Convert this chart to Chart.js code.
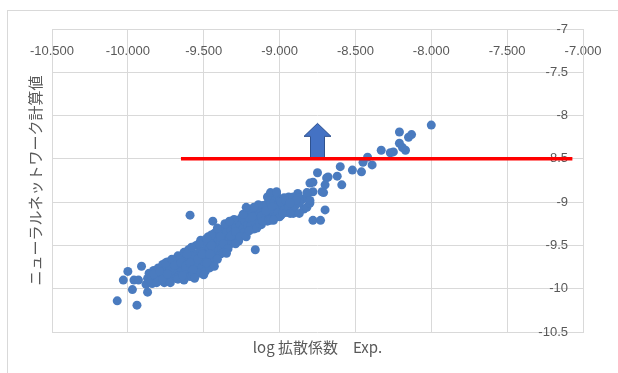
<!DOCTYPE html>
<html>
<head>
<meta charset="utf-8">
<script src="https://cdn.jsdelivr.net/npm/chart.js@4"></script>
<style>
  html, body { margin: 0; padding: 0; background: #fff; overflow: hidden; }
  #frame { position: absolute; left: 7px; top: 10px; width: 640px; height: 400px; border-top: 1px solid #d9d9d9; border-left: 1px solid #d9d9d9; }
  #wrap { position: absolute; left: 0; top: 0; width: 618px; height: 373px; }
</style>
</head>
<body>
<div id="frame"></div>
<div id="wrap"><canvas id="nn-chart"></canvas></div>
<script>
// axis ranges and titles
const x_ticks = [-10.5, -10, -9.5, -9, -8.5, -8, -7.5, -7]
const y_ticks = [-10.5, -10, -9.5, -9, -8.5, -8, -7.5, -7]
const x_title = 'log 拡散係数　Exp.'
const y_title = 'ニューラルネットワーク計算値'

// [log D exp, NN calc]
const nn_points = [
  [-10.00, -9.80], [-9.91, -9.74], [-10.03, -9.90], [-9.96, -9.90], [-9.93, -9.90],
  [-9.97, -10.01], [-10.07, -10.14], [-9.94, -10.19], [-9.87, -10.04],
  [-9.88, -9.95], [-9.87, -9.88], [-9.86, -9.82], [-9.85, -9.92], [-9.84, -9.86],
  [-9.83, -9.79], [-9.82, -9.90], [-9.81, -9.84], [-9.80, -9.76], [-9.79, -9.88],
  [-9.78, -9.81], [-9.77, -9.72], [-9.76, -9.85], [-9.75, -9.78], [-9.74, -9.69],
  [-9.73, -9.90], [-9.72, -9.82], [-9.71, -9.74], [-9.70, -9.86], [-9.70, -9.67],
  [-9.69, -9.79], [-9.68, -9.71], [-9.67, -9.62], [-9.66, -9.84], [-9.65, -9.76],
  [-9.64, -9.68], [-9.63, -9.58], [-9.62, -9.81], [-9.61, -9.73], [-9.60, -9.64],
  [-9.60, -9.55], [-9.59, -9.86], [-9.58, -9.77], [-9.57, -9.69], [-9.56, -9.60],
  [-9.55, -9.80], [-9.55, -9.50], [-9.54, -9.72], [-9.53, -9.63], [-9.52, -9.44],
  [-9.51, -9.76], [-9.50, -9.68], [-9.50, -9.56], [-9.49, -9.47], [-9.48, -9.62],
  [-9.47, -9.72], [-9.47, -9.40], [-9.46, -9.53], [-9.45, -9.65], [-9.44, -9.58],
  [-9.44, -9.45], [-9.43, -9.36], [-9.42, -9.50], [-9.42, -9.62], [-9.41, -9.41],
  [-9.40, -9.55], [-9.40, -9.33],
  [-9.39, -9.47], [-9.38, -9.38], [-9.37, -9.30], [-9.36, -9.44], [-9.35, -9.52],
  [-9.35, -9.35], [-9.34, -9.27], [-9.33, -9.41], [-9.32, -9.33], [-9.31, -9.46],
  [-9.31, -9.24], [-9.30, -9.37], [-9.29, -9.29], [-9.28, -9.42], [-9.28, -9.21],
  [-9.27, -9.33], [-9.26, -9.26], [-9.25, -9.38], [-9.25, -9.18],
  [-9.24, -9.30], [-9.23, -9.22], [-9.22, -9.13], [-9.21, -9.27], [-9.20, -9.18],
  [-9.19, -9.10], [-9.18, -9.24], [-9.17, -9.31], [-9.16, -9.15], [-9.15, -9.07],
  [-9.14, -9.21], [-9.13, -9.12], [-9.12, -9.26], [-9.11, -9.04], [-9.10, -9.17],
  [-9.10, -9.10],
  [-9.09, -9.03], [-9.08, -9.14], [-9.07, -8.97], [-9.06, -9.08], [-9.05, -9.18],
  [-9.04, -9.00], [-9.03, -8.92], [-9.02, -9.11], [-9.01, -9.04], [-9.00, -8.96],
  [-8.99, -9.15], [-8.98, -9.05], [-8.97, -8.95], [-8.96, -9.12], [-8.95, -9.02],
  [-8.94, -8.94], [-8.93, -9.08], [-8.92, -8.99], [-8.91, -9.13],
  [-9.84, -9.94], [-9.80, -9.91], [-9.76, -9.93], [-9.72, -9.77], [-9.68, -9.88],
  [-9.66, -9.66], [-9.63, -9.90], [-9.62, -9.66], [-9.58, -9.62], [-9.57, -9.83],
  [-9.53, -9.82], [-9.52, -9.56], [-9.49, -9.80], [-9.46, -9.76], [-9.45, -9.38],
  [-9.43, -9.68], [-9.39, -9.60], [-9.38, -9.53],
  [-9.36, -9.25], [-9.33, -9.49], [-9.30, -9.20], [-9.27, -9.45], [-9.23, -9.35],
  [-9.21, -9.08], [-9.19, -9.28], [-9.16, -9.24], [-9.14, -9.03], [-9.12, -9.16],
  [-9.08, -9.22], [-9.06, -9.01], [-9.04, -9.13],
  [-9.83, -9.83], [-9.81, -9.93], [-9.79, -9.80], [-9.77, -9.89], [-9.75, -9.70],
  [-9.74, -9.83], [-9.72, -9.93], [-9.71, -9.66], [-9.69, -9.73], [-9.67, -9.89],
  [-9.65, -9.70], [-9.64, -9.85], [-9.62, -9.74], [-9.61, -9.60], [-9.59, -9.70],
  [-9.58, -9.52], [-9.57, -9.78], [-9.56, -9.88], [-9.54, -9.66], [-9.53, -9.48],
  [-9.51, -9.60], [-9.50, -9.84], [-9.48, -9.70], [-9.48, -9.42], [-9.46, -9.60],
  [-9.45, -9.50], [-9.43, -9.74], [-9.41, -9.66], [-9.41, -9.30], [-9.39, -9.40],
  [-9.37, -9.58], [-9.37, -9.48], [-9.34, -9.54], [-9.33, -9.22], [-9.32, -9.39],
  [-9.29, -9.48], [-9.29, -9.34], [-9.26, -9.40], [-9.24, -9.14], [-9.22, -9.40],
  [-9.20, -9.33], [-9.18, -9.17], [-9.17, -9.06], [-9.15, -9.30], [-9.13, -9.25],
  [-9.11, -9.22], [-9.09, -9.10], [-9.07, -9.20], [-9.05, -9.05], [-9.03, -9.17],
  [-9.01, -9.12], [-8.99, -9.00], [-8.97, -9.09], [-8.96, -8.98], [-8.94, -9.05],
  [-8.90, -9.05], [-8.88, -8.90], [-8.85, -8.97], [-8.84, -9.08],
  [-9.59, -9.15], [-9.16, -9.55], [-9.35, -9.59], [-9.44, -9.22],
  [-9.08, -8.94], [-9.02, -8.90], [-9.22, -9.06], [-9.06, -8.89], [-8.91, -8.94],
  [-8.87, -8.95], [-8.80, -8.78], [-8.78, -8.88], [-8.82, -9.06], [-8.87, -9.13],
  [-8.93, -9.13], [-9.00, -9.17], [-9.06, -9.21], [-8.78, -9.21], [-8.73, -9.21],
  [-8.70, -9.09], [-8.80, -9.01], [-8.87, -9.01], [-8.71, -8.89], [-9.02, -8.88],
  [-8.89, -8.98], [-8.93, -9.01], [-8.98, -9.13], [-9.04, -9.21], [-8.82, -8.92],
  [-8.82, -8.89], [-8.80, -8.98], [-8.72, -8.88], [-8.70, -8.80], [-8.78, -8.77],
  [-8.69, -8.72], [-8.59, -8.80], [-8.68, -8.71], [-8.62, -8.70], [-8.75, -8.66],
  [-8.60, -8.59], [-8.52, -8.63], [-8.46, -8.65], [-8.39, -8.57], [-8.45, -8.54],
  [-8.42, -8.48], [-8.33, -8.40], [-8.27, -8.43], [-8.25, -8.42], [-8.17, -8.40],
  [-8.19, -8.37], [-8.21, -8.32], [-8.15, -8.25], [-8.13, -8.22], [-8.21, -8.19],
  [-8.00, -8.11]
]

// red threshold line and the blue arrow
const threshold_x = [-9.65, -7.07]
const threshold_y = -8.5
const arrow_x = -8.75
const arrow_from = -8.5
const arrow_to = -8.09

const tick_color = '#595959'
const grid_color = '#d9d9d9'
const point_color = '#4a7bbf'

const arrowPlugin = {
  id: 'upArrow',
  beforeDatasetsDraw(chart) {
    const ctx = chart.ctx
    const x = chart.scales.x
    const y = chart.scales.y
    const px = x.getPixelForValue(arrow_x)
    const py0 = y.getPixelForValue(arrow_from)
    const py1 = y.getPixelForValue(arrow_to)
    const shaft = 7
    const head = 13.5
    const headLen = 13
    ctx.save()
    ctx.beginPath()
    ctx.moveTo(px - shaft, py0)
    ctx.lineTo(px - shaft, py1 + headLen)
    ctx.lineTo(px - head, py1 + headLen)
    ctx.lineTo(px, py1)
    ctx.lineTo(px + head, py1 + headLen)
    ctx.lineTo(px + shaft, py1 + headLen)
    ctx.lineTo(px + shaft, py0)
    ctx.closePath()
    ctx.fillStyle = '#4472c4'
    ctx.fill()
    ctx.strokeStyle = '#2f528f'
    ctx.lineWidth = 1
    ctx.stroke()
    ctx.restore()
  }
}

const tickFont = { family: "'Liberation Sans', Arial, sans-serif", size: 13 }
const titleFont = { family: "'Noto Sans CJK JP', sans-serif", size: 15 }

new Chart(document.getElementById('nn-chart'), {
  type: 'scatter',
  data: {
    datasets: [
      {
        type: 'line',
        label: 'threshold',
        data: threshold_x.map(v => ({ x: v, y: threshold_y })),
        borderColor: '#ff0000',
        borderWidth: 3.5,
        pointRadius: 0,
        order: 0
      },
      {
        label: 'NN',
        data: nn_points.map(p => ({ x: p[0], y: p[1] })),
        backgroundColor: point_color,
        borderColor: point_color,
        borderWidth: 0,
        pointRadius: 4.5,
        order: 1
      }
    ]
  },
  options: {
    responsive: true,
    maintainAspectRatio: false,
    animation: false,
    layout: { padding: 0 },
    plugins: {
      legend: { display: false },
      tooltip: { enabled: false }
    },
    scales: {
      x: {
        type: 'linear',
        position: 'top',
        min: x_ticks[0],
        max: x_ticks[x_ticks.length - 1],
        afterBuildTicks: s => { s.ticks = x_ticks.map(v => ({ value: v })) },
        afterFit: s => { s.height = 29 },
        ticks: {
          mirror: true,
          padding: 15,
          color: tick_color,
          font: tickFont,
          maxRotation: 0,
          autoSkip: false,
          callback: v => Number(v).toFixed(3)
        },
        grid: { color: grid_color, drawTicks: false },
        border: { color: grid_color }
      },
      x2: {
        type: 'linear',
        position: 'bottom',
        min: x_ticks[0],
        max: x_ticks[x_ticks.length - 1],
        afterFit: s => { s.height = 41 },
        ticks: { display: false },
        grid: { display: false, drawTicks: false },
        border: { display: false },
        title: {
          display: true,
          text: x_title,
          color: tick_color,
          font: titleFont,
          padding: { top: 0, bottom: 17 }
        }
      },
      y: {
        type: 'linear',
        position: 'right',
        min: y_ticks[0],
        max: y_ticks[y_ticks.length - 1],
        afterBuildTicks: s => { s.ticks = y_ticks.map(v => ({ value: v })) },
        afterFit: s => { s.width = 35 },
        ticks: {
          mirror: true,
          padding: -15,
          color: tick_color,
          font: tickFont,
          autoSkip: false,
          callback: v => String(v)
        },
        grid: { color: grid_color, drawTicks: false },
        border: { color: grid_color }
      },
      y2: {
        type: 'linear',
        position: 'left',
        min: y_ticks[0],
        max: y_ticks[y_ticks.length - 1],
        afterFit: s => { s.width = 52 },
        ticks: { display: false },
        grid: { display: false, drawTicks: false },
        border: { display: false },
        title: {
          display: true,
          text: y_title,
          color: tick_color,
          font: titleFont,
          padding: { top: 26, bottom: 0 }
        }
      }
    }
  },
  plugins: [arrowPlugin]
})
</script>
</body>
</html>
